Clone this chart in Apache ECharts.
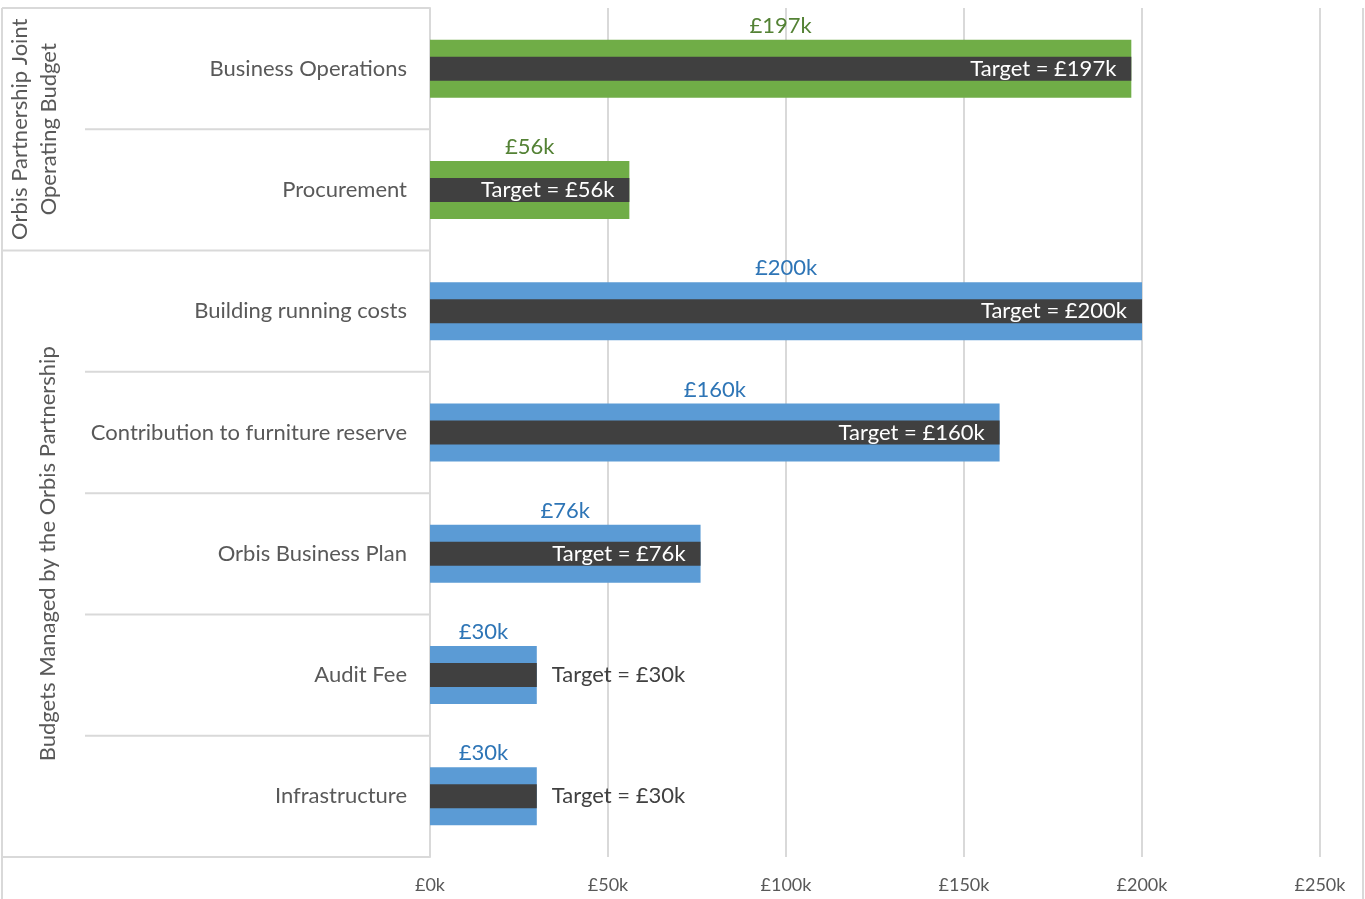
<!DOCTYPE html>
<html>
<head>
<meta charset="utf-8">
<script src="https://cdn.jsdelivr.net/npm/echarts@6/dist/echarts.min.js"></script>
<style>
  html, body { margin: 0; padding: 0; background: #fff; }
  #main { width: 1365px; height: 899px; }
</style>
</head>
<body>
<div id="main"></div>
<script>
// budget lines, top to bottom
const categories = ['Business Operations', 'Procurement', 'Building running costs',
  'Contribution to furniture reserve', 'Orbis Business Plan', 'Audit Fee', 'Infrastructure'];
const budget = [197, 56, 200, 160, 76, 30, 30];   // £k
const target = [197, 56, 200, 160, 76, 30, 30];   // £k
const group = [0, 0, 1, 1, 1, 1, 1];
const groupNames = ['Orbis Partnership Joint\nOperating Budget', 'Budgets Managed by the Orbis Partnership'];

const FONT = 'Lato';
const barColors = ['#70AD47', '#5B9BD5'];
const labelColors = ['#548235', '#2E75B6'];

function initChart(dom){
    let chartDom = document.getElementById(dom);
    return echarts.getInstanceByDom(chartDom) || echarts.init(chartDom);
}

let chart = initChart('main');

const gTop = 8, gBottom = 857, gLeft = 430, gRight = 1320;
const rowH = (gBottom - gTop) / categories.length;

// frame lines on the left side (category group table)
let graphics = [];
function line(x1, y1, x2, y2){
    graphics.push({ type: 'line', shape: { x1, y1, x2, y2 },
        style: { stroke: '#d9d9d9', lineWidth: 2 }, silent: true });
}
line(2, gTop, 2, 899);
line(2, gTop, gLeft, gTop);
line(1363, gTop, 1363, 899);
for (let i = 1; i <= categories.length; i++) {
    let y = gTop + i * rowH;
    let groupEnd = i === categories.length || group[i] !== group[i - 1];
    line(groupEnd ? 2 : 85, y, gLeft, y);
}
// group titles
groupNames.forEach((name, g) => {
    let first = group.indexOf(g), last = group.lastIndexOf(g);
    let yc = gTop + (first + last + 1) / 2 * rowH;
    let lines = name.split('\n').length;
    graphics.push({
        type: 'text', x: lines > 1 ? 34 : 48, y: yc, rotation: Math.PI / 2,
        style: { text: name, fill: '#595959', font: '22px ' + FONT,
            align: 'center', verticalAlign: 'middle', lineHeight: 29 },
        silent: true
    });
});

let option = {
    animation: false,
    grid: { left: gLeft, right: 1365 - gRight, top: gTop, bottom: 899 - gBottom, containLabel: false },
    xAxis: {
        type: 'value', min: 0, max: 250, interval: 50,
        axisLine: { show: false }, axisTick: { show: false },
        splitLine: { lineStyle: { color: '#d9d9d9', width: 2 } },
        axisLabel: { color: '#595959', fontFamily: FONT, fontSize: 18, margin: 19,
            formatter: v => '£' + v + 'k' }
    },
    yAxis: [
        {
            type: 'category', data: categories, inverse: true,
            axisLine: { show: true, lineStyle: { color: '#d9d9d9', width: 2 } },
            axisTick: { show: false },
            axisLabel: { color: '#595959', fontFamily: FONT, fontSize: 22, margin: 23 }
        },
        {
            // twin axis so the target bar sits centred inside the budget bar
            type: 'category', data: categories, inverse: true, position: 'left',
            axisLine: { show: false }, axisTick: { show: false }, axisLabel: { show: false },
            splitLine: { show: false }
        }
    ],
    series: [
        {
            type: 'bar', barWidth: 58, yAxisIndex: 0,
            data: budget.map((v, i) => ({
                value: v,
                itemStyle: { color: barColors[group[i]] },
                label: { color: labelColors[group[i]] }
            })),
            label: { show: true, position: 'top', distance: 3, fontFamily: FONT, fontSize: 22,
                formatter: p => '£' + p.value + 'k' }
        },
        {
            type: 'bar', barWidth: 24, yAxisIndex: 1,
            itemStyle: { color: '#404040' },
            data: target.map(v => ({
                value: v,
                label: v > 50
                    ? { position: 'insideRight', distance: 15, color: '#ffffff' }
                    : { position: 'right', distance: 15, color: '#404040' }
            })),
            label: { show: true, fontFamily: FONT, fontSize: 22,
                formatter: p => 'Target = £' + p.value + 'k' }
        }
    ],
    graphic: graphics
};
chart.setOption(option);
</script>
</body>
</html>
